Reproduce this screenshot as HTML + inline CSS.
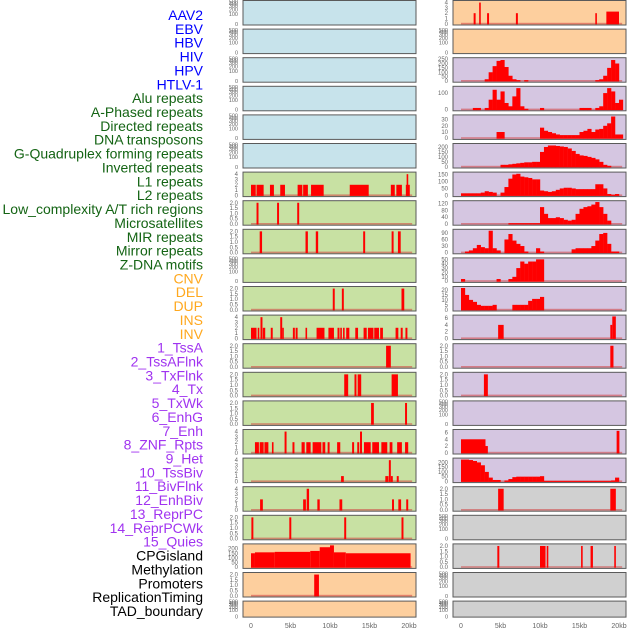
<!DOCTYPE html>
<html><head><meta charset="utf-8"><style>
body{margin:0;background:#fff;}
svg{display:block;font-family:"Liberation Sans",sans-serif;}
</style></head><body>
<svg id="c" width="630" height="630" viewBox="0 0 630 630"></svg>
<script>
// ---- labels ----
const labels = ["AAV2","EBV","HBV","HIV","HPV","HTLV-1","Alu repeats","A-Phased repeats","Directed repeats","DNA transposons","G-Quadruplex forming repeats","Inverted repeats","L1 repeats","L2 repeats","Low_complexity A/T rich regions","Microsatellites","MIR repeats","Mirror repeats","Z-DNA motifs","CNV","DEL","DUP","INS","INV","1_TssA","2_TssAFlnk","3_TxFlnk","4_Tx","5_TxWk","6_EnhG","7_Enh","8_ZNF_Rpts","9_Het","10_TssBiv","11_BivFlnk","12_EnhBiv","13_ReprPC","14_ReprPCWk","15_Quies","CPGisland","Methylation","Promoters","ReplicationTiming","TAD_boundary"];
const labelGroups = [6,13,5,15,5];
const xTickLabels = ["0","5kb","10kb","15kb","20kb"];
const xTickValues = [0,5,10,15,20];

// ---- tick sets ----
const t4 = ["0","1","2","3","4"], v4 = [0,1,2,3,4];
const t2 = ["0.0","0.5","1.0","1.5","2.0"], v2 = [0,0.5,1,1.5,2];
const tE = ["0","100","200","300","400","500"];
const t6 = ["0","2","4","6"], v6 = [0,2,4,6];

// ---- left column interval data [startKb, endKb, value] ----
const L_L1 = [[0,0.6,2],[0.7,1.6,2],[2.4,2.9,2],[3.7,4.3,2],[5.9,6.5,2],[6.6,7.2,2],[7.6,9.2,2],[12.5,14.9,2],[17.7,18.2,2],[18.4,19.1,2],[19.6,20.1,2],[19.7,19.9,4]];
const L_r7 = [[0.7,0.95,2],[3.3,3.55,2],[5.85,6.1,2]];
const L_r8 = [[1.1,1.4,2],[6.9,7.2,2],[8.2,8.5,2],[14.2,14.45,2],[17.8,18.05,2],[18.6,18.95,2]];
const L_r10 = [[10.35,10.6,2],[11.5,11.75,2],[19.05,19.4,2]];
const L_r11 = [[0,0.7,2],[0.85,1.05,2],[1.2,1.45,4],[1.5,1.8,2],[2.5,2.75,2],[3.7,3.95,4],[3.95,4.05,2],[5.3,5.55,2],[5.65,5.9,2],[6.9,7.1,2],[8.3,9.3,2],[9.8,10.5,2],[10.95,11.2,2],[11.3,11.5,2],[11.65,11.85,2],[12.05,12.45,2],[13.2,13.55,2],[14.25,14.65,2],[14.8,15.5,2],[15.6,16.2,2],[16.35,16.7,2],[18.3,18.65,2],[18.95,19.2,2],[19.55,19.8,2]];
const L_r12 = [[17.1,17.7,2]];
const L_r13 = [[11.8,12.3,2],[13.1,13.35,2],[13.5,13.95,2],[17.8,18.6,2]];
const L_r14 = [[15.2,15.55,2],[19.5,19.75,2]];
const L_r15 = [[0.5,1.0,2],[1.1,1.6,2],[1.7,2.2,2],[2.65,2.85,2],[4.25,4.5,4],[5.25,5.5,2],[6.4,6.8,2],[7.0,7.55,2],[7.8,8.9,2],[9.05,9.4,2],[9.7,9.95,2],[10.9,11.3,2],[12.8,13.05,2],[13.45,13.7,2],[13.8,14.05,4],[14.3,15.15,2],[15.35,16.2,2],[16.5,17.25,2],[17.55,17.9,2],[18.5,19.1,2],[19.5,19.9,2]];
const L_r16 = [[11.4,11.75,1],[17.0,17.4,1],[17.45,17.7,4],[17.7,17.95,1],[18.45,18.7,1]];
const L_r17 = [[1.15,1.5,2],[6.6,6.95,2],[7.05,7.35,4],[8.4,8.7,2],[11.2,11.55,2],[17.85,18.1,2],[18.65,19.0,2],[19.65,19.9,2]];
const L_r18 = [[0.05,0.3,2],[4.85,5.1,2],[11.8,12.05,2],[19.05,19.3,2]];
const L_cpg = [[0,0.5,150],[0.5,3,160],[3,7.5,165],[7.5,8.7,175],[8.7,10,215],[10,10.5,235],[10.5,12,160],[12,20.2,150]];
const L_prom = [[8.0,8.6,2]];

// ---- right column data ----
const R_aav2 = [[1.6,1.85,2],[2.3,2.5,4],[3.3,3.55,2],[6.95,7.2,2],[17.0,17.2,2],[18.4,20.0,2.3]];
// profiles: values per 0.5kb bin starting at 0kb
const R_hiv = [0,0,0,0,0,0,20,100,170,230,240,160,60,20,10,0,10,0,0,0,0,0,0,0,0,0,0,0,0,0,0,0,0,0,10,20,60,150,240,200,0];
const R_hpv = [0,0,0,10,10,0,10,60,120,60,110,40,20,80,130,20,5,0,0,0,10,0,0,0,0,0,0,0,0,0,10,10,10,0,10,20,100,130,110,40,60];
const R_htlv = [0,0,0,0,0,0,0,0,0,10,10,0,0,0,0,0,0,0,0,0,17,12,10,8,6,5,5,5,5,5,10,12,15,10,14,15,20,24,35,6,6];
const R_alu = [0,0,0,0,0,0,0,0,0,0,20,20,25,30,35,40,45,45,50,50,150,200,215,215,210,205,200,185,160,130,115,110,100,90,75,50,20,10,0,0,0];
const R_aph = [15,15,15,15,15,20,30,25,20,0,20,60,120,150,155,135,130,125,115,115,35,30,25,30,40,50,55,55,50,45,45,45,45,45,80,80,50,10,5,10,0];
const R_dir = [0,0,0,0,0,0,0,0,0,0,0,0,5,5,5,5,5,5,5,5,100,60,35,35,40,35,25,20,25,60,90,100,105,115,130,100,60,20,0,0,0];
const R_dna = [0,5,10,20,35,25,20,100,20,10,0,60,85,55,40,30,5,0,0,20,5,0,0,0,0,0,0,0,15,20,20,20,20,30,55,85,90,40,5,5,0];
const R_gq = [5,0,0,0,0,0,0,0,0,5,0,0,5,10,30,45,40,45,45,50,50,0,0,0,0,0,0,0,0,0,0,0,0,0,0,0,0,0,0,0,0];
const R_inv = [22,15,10,8,5,4,4,4,5,0,0,0,0,5,5,5,5,9,11,11,13,0,0,0,0,0,0,0,0,0,0,0,0,0,0,0,0,0,0,0,0];
const R_r11 = [[4.7,5.4,4],[18.9,19.15,4],[19.15,19.6,6.5]];
const R_r12 = [[18.9,19.3,2]];
const R_r13 = [[2.9,3.4,2]];
const R_r15 = [[0,3.1,4],[3.1,3.4,2],[19.7,20.05,6.5]];
const R_r16 = [230,230,225,215,200,170,100,40,15,15,0,10,25,45,50,50,50,50,50,50,55,5,5,5,5,5,5,5,5,5,5,5,5,5,5,5,5,5,10,40,0];
const R_r17 = [[4.7,5.4,2],[18.9,19.6,2]];
const R_r19 = [[4.6,4.85,2],[10.0,10.7,2],[10.85,11.05,2],[15.2,15.4,2],[16.4,16.7,2],[19.4,19.6,2]];

const C = {blue:"#c7e3eb",green:"#c8e1a3",orange:"#fdcf9e",purple:"#d5c6e1",gray:"#d0d0d0"};
// panel spec: [bg, ticks, tickVals, max, intervals, profile]
const leftPanels = [];
for (let i=0;i<6;i++) leftPanels.push({bg:C.blue,empty:true});
leftPanels.push({bg:C.green,ticks:t4,tv:v4,max:4.2,iv:L_L1});
leftPanels.push({bg:C.green,ticks:t2,tv:v2,max:2.1,iv:L_r7});
leftPanels.push({bg:C.green,ticks:t2,tv:v2,max:2.1,iv:L_r8});
leftPanels.push({bg:C.green,empty:true});
leftPanels.push({bg:C.green,ticks:t2,tv:v2,max:2.1,iv:L_r10});
leftPanels.push({bg:C.green,ticks:t4,tv:v4,max:4.2,iv:L_r11});
leftPanels.push({bg:C.green,ticks:t2,tv:v2,max:2.1,iv:L_r12});
leftPanels.push({bg:C.green,ticks:t2,tv:v2,max:2.1,iv:L_r13});
leftPanels.push({bg:C.green,ticks:t2,tv:v2,max:2.1,iv:L_r14});
leftPanels.push({bg:C.green,ticks:t4,tv:v4,max:4.2,iv:L_r15});
leftPanels.push({bg:C.green,ticks:t4,tv:v4,max:4.2,iv:L_r16});
leftPanels.push({bg:C.green,ticks:t4,tv:v4,max:4.2,iv:L_r17});
leftPanels.push({bg:C.green,ticks:t2,tv:v2,max:2.1,iv:L_r18});
leftPanels.push({bg:C.orange,ticks:["0","50","100","150","200"],tv:[0,50,100,150,200],max:240,iv:L_cpg});
leftPanels.push({bg:C.orange,ticks:t2,tv:v2,max:2.1,iv:L_prom});
leftPanels.push({bg:C.orange,empty:true});

const rightPanels = [
 {bg:C.orange,ticks:t4,tv:v4,max:4.2,iv:R_aav2},
 {bg:C.orange,empty:true},
 {bg:C.purple,ticks:["0","50","100","150","200","250"],tv:[0,50,100,150,200,250],max:255,pr:R_hiv},
 {bg:C.purple,ticks:["0","100"],tv:[0,100],max:135,pr:R_hpv},
 {bg:C.purple,ticks:["0","10","20","30"],tv:[0,10,20,30],max:36,pr:R_htlv},
 {bg:C.purple,ticks:["0","50","100","150","200"],tv:[0,50,100,150,200],max:225,pr:R_alu},
 {bg:C.purple,ticks:["0","50","100","150"],tv:[0,50,100,150],max:160,pr:R_aph},
 {bg:C.purple,ticks:["0","40","80","120"],tv:[0,40,80,120],max:132,pr:R_dir},
 {bg:C.purple,ticks:["0","30","60","90"],tv:[0,30,60,90],max:102,pr:R_dna},
 {bg:C.purple,ticks:["0","10","20","30","40","50"],tv:[0,10,20,30,40,50],max:51,pr:R_gq},
 {bg:C.purple,ticks:["0","5","10","15","20"],tv:[0,5,10,15,20],max:22.5,pr:R_inv},
 {bg:C.purple,ticks:t6,tv:v6,max:6.6,iv:R_r11},
 {bg:C.purple,ticks:t2,tv:v2,max:2.1,iv:R_r12},
 {bg:C.purple,ticks:t2,tv:v2,max:2.1,iv:R_r13},
 {bg:C.purple,empty:true},
 {bg:C.purple,ticks:t6,tv:v6,max:6.6,iv:R_r15},
 {bg:C.purple,ticks:["0","50","100","150","200"],tv:[0,50,100,150,200],max:235,pr:R_r16},
 {bg:C.gray,ticks:t2,tv:v2,max:2.1,iv:R_r17},
 {bg:C.gray,empty:true},
 {bg:C.gray,ticks:t2,tv:v2,max:2.1,iv:R_r19},
 {bg:C.gray,empty:true},
 {bg:C.gray,empty:true}
];

const NS="http://www.w3.org/2000/svg";
const svg=document.getElementById('c');
function mk(tag,attrs,parent,text){const e=document.createElementNS(NS,tag);for(const k in attrs)e.setAttribute(k,attrs[k]);if(text!==undefined)e.textContent=text;(parent||svg).appendChild(e);return e;}

// labels
const groupColors=["#0000ff","#146414","#ffa81e","#a033f0","#000000"];
let li=0;
labelGroups.forEach((n,g)=>{for(let k=0;k<n;k++){
  const t=mk('text',{x:203,y:15+li*13.86+5,'text-anchor':'end','font-size':'14',fill:groupColors[g]},svg,labels[li]);
  
  
  li++;}});

const PX=7.9;
function xScale(x0,kb){return x0+kb*PX;}
const emptyPos=[23.3,13.5,9,5.5,3,0.8];

function drawPanel(p,i,side){
  const left=side==='left';
  const bx=left?243:453, bw=173, x0=left?251:461, tx=left?238:448;
  const top=0.5+i*28.6, h=(i===21)?16:24.5;
  const g=mk('g',{});
  
  
  mk('rect',{x:bx,y:top,width:bw,height:h,fill:p.bg,stroke:'#5a5a5a','stroke-width':1},g);
  const yb=top+h-1.2, yt=top+1;
  if(p.empty){
    tE.forEach((t,k)=>{const e=mk('text',{x:tx,y:top+emptyPos[k]*(h/24.5)+2,'text-anchor':'end','font-size':'5.5',fill:'#666'},g,t);
      
      });
    return;
  }
  const yS=v=>yb-v/p.max*(yb-yt);
  p.tv.forEach((v,k)=>{const e=mk('text',{x:tx,y:yS(v)+2,'text-anchor':'end','font-size':'6',fill:'#666'},g,p.ticks[k]);
    
    });
  mk('rect',{x:xScale(x0,0),y:yb-1,width:20.4*PX,height:1.6,fill:'#d24040',opacity:0.55},g);
  if(p.iv){p.iv.forEach(d=>{const r=mk('rect',{x:xScale(x0,d[0]),y:yS(d[2]),width:Math.max(1.6,(d[1]-d[0])*PX),height:yb-yS(d[2])+0.5,fill:'#ff0000'},g);
    
    });}
  if(p.pr){p.pr.forEach((v,k)=>{if(v<=0)return;const r=mk('rect',{x:xScale(x0,k*0.5),y:yS(v),width:0.5*PX+0.2,height:yb-yS(v)+0.5,fill:'#ff0000'},g);
    
    });}
}
leftPanels.forEach((p,i)=>drawPanel(p,i,'left'));
rightPanels.forEach((p,i)=>drawPanel(p,i,'right'));

[251,461].forEach(x0=>{xTickValues.forEach((v,k)=>{const e=mk('text',{x:xScale(x0,v),y:628,'text-anchor':'middle','font-size':'7',fill:'#666'},svg,xTickLabels[k]);
  
  });});
</script>
</body></html>
